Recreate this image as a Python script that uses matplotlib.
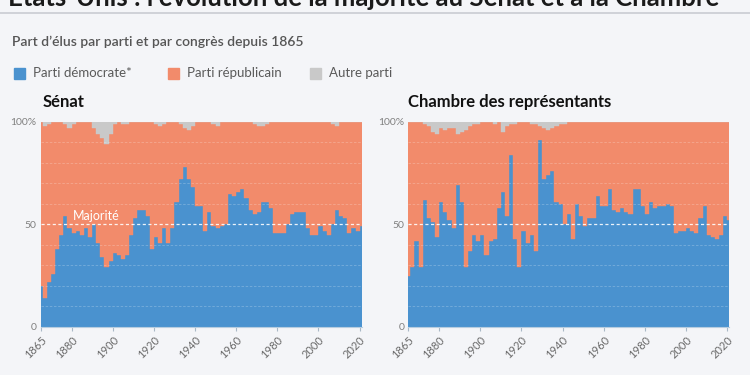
import matplotlib
matplotlib.use('Agg')
import matplotlib.pyplot as plt
from matplotlib.patches import Rectangle

# Congrès (année de début), part des sièges en %
years = list(range(1865, 2022, 2))

senat_dem = [20, 14, 22, 26, 38, 45, 54, 48, 46, 47, 45, 48, 44, 50, 41, 34, 29, 32, 36, 35,
             33, 35, 45, 53, 57, 57, 54, 38, 44, 41, 48, 41, 48, 61, 72, 78, 72, 68, 59, 59,
             47, 56, 49, 48, 49, 50, 65, 64, 66, 67, 63, 57, 55, 56, 61, 61, 58, 46, 46, 46,
             50, 55, 56, 56, 56, 48, 45, 45, 49, 47, 45, 50, 57, 54, 53, 46, 48, 47, 49]
senat_rep = [80, 84, 77, 74, 62, 55, 45, 49, 53, 53, 55, 52, 56, 47, 53, 58, 60, 62, 63, 65,
             66, 64, 55, 47, 43, 43, 46, 62, 55, 57, 51, 59, 52, 39, 27, 19, 24, 30, 41, 41,
             53, 44, 50, 50, 51, 50, 35, 36, 34, 33, 37, 43, 44, 42, 37, 38, 42, 54, 54, 54,
             50, 45, 44, 44, 44, 52, 55, 55, 51, 53, 55, 49, 41, 46, 47, 54, 52, 53, 51]
senat_autre = [0, 2, 1, 0, 0, 0, 1, 3, 1, 0, 0, 0, 0, 3, 6, 8, 11, 6, 1, 0,
               1, 1, 0, 0, 0, 0, 0, 0, 1, 2, 1, 0, 0, 0, 1, 3, 4, 2, 0, 0,
               0, 0, 1, 2, 0, 0, 0, 0, 0, 0, 0, 0, 1, 2, 2, 1, 0, 0, 0, 0,
               0, 0, 0, 0, 0, 0, 0, 0, 0, 0, 0, 1, 2, 0, 0, 0, 0, 0, 0]

chambre_dem = [25, 29, 42, 29, 62, 53, 51, 44, 61, 56, 52, 48, 69, 61, 29, 37, 45, 42, 45, 35,
               42, 43, 58, 66, 54, 84, 43, 29, 47, 41, 45, 37, 91, 72, 74, 76, 61, 60, 50, 55,
               43, 60, 54, 49, 53, 53, 64, 59, 59, 67, 57, 56, 58, 56, 55, 67, 67, 59, 55, 61,
               58, 59, 59, 60, 59, 46, 47, 47, 48, 47, 46, 53, 59, 45, 44, 43, 45, 54, 52]
chambre_rep = [75, 71, 58, 71, 37, 45, 44, 50, 36, 40, 45, 49, 25, 34, 67, 61, 54, 57, 55, 65,
               58, 56, 42, 29, 44, 15, 56, 71, 53, 59, 54, 62, 7, 25, 22, 21, 37, 39, 49, 45,
               57, 40, 46, 51, 47, 47, 36, 41, 41, 33, 43, 44, 42, 44, 45, 33, 33, 41, 45, 39,
               42, 41, 41, 40, 41, 54, 53, 53, 52, 53, 54, 47, 41, 55, 56, 57, 55, 46, 48]
chambre_autre = [0, 0, 0, 0, 1, 2, 5, 6, 3, 4, 3, 3, 6, 5, 4, 2, 1, 1, 0, 0,
                 0, 1, 0, 5, 2, 1, 1, 0, 0, 0, 1, 1, 2, 3, 4, 3, 2, 1, 1, 0,
                 0, 0, 0, 0, 0, 0, 0, 0, 0, 0, 0, 0, 0, 0, 0, 0, 0, 0, 0, 0,
                 0, 0, 0, 0, 0, 0, 0, 0, 0, 0, 0, 0, 0, 0, 0, 0, 0, 0, 0]

partis = ['Parti démocrate*', 'Parti républicain', 'Autre parti']
couleurs = ['#4a92cf', '#f28b6b', '#c9c9c9']
xticks = [1865, 1880, 1900, 1920, 1940, 1960, 1980, 2000, 2020]

BG = '#f4f5f8'
plt.rcParams['font.family'] = ['Lato', 'DejaVu Sans']

W, H = 750, 375
fig = plt.figure(figsize=(7.5, 3.75), dpi=100, facecolor=BG)


def add_axes_px(left, top, right, bottom):
    return fig.add_axes([left / W, 1 - bottom / H, (right - left) / W, (bottom - top) / H])


# En-tête (titre coupé en haut de l'image, comme dans l'original)
fig.text(8 / W, 1 - 6 / H, "Etats-Unis : l'évolution de la majorité au Sénat et à la Chambre",
         fontsize=18.5, fontweight='bold', color='#1a1a1a', va='baseline', ha='left')
fig.add_artist(plt.Line2D([0, 1], [1 - 13 / H, 1 - 13 / H], color='#c9ccd2', lw=1.2))
fig.text(12 / W, 1 - 42 / H, "Part d’élus par parti et par congrès depuis 1865",
         fontsize=10, color='#555555', va='center', ha='left', fontweight='semibold')

# Légende
leg_x = [14, 168, 310]
for x0, lab, col in zip(leg_x, partis, couleurs):
    fig.add_artist(Rectangle((x0 / W, 1 - 79 / H), 11 / W, 11 / H, color=col,
                             transform=fig.transFigure))
    fig.text((x0 + 19) / W, 1 - 73 / H, lab, fontsize=9.5, color='#5a5a5a',
             va='center', ha='left')


def panel(ax, titre, dem, rep, autre):
    ax.set_facecolor(BG)
    ax.bar(years, dem, width=2, color=couleurs[0], edgecolor=couleurs[0], linewidth=0.3)
    ax.bar(years, rep, width=2, bottom=dem, color=couleurs[1], edgecolor=couleurs[1],
           linewidth=0.3)
    base = [d + r for d, r in zip(dem, rep)]
    ax.bar(years, autre, width=2, bottom=base, color=couleurs[2], edgecolor=couleurs[2],
           linewidth=0.3)
    ax.set_xlim(1865, 2021)
    ax.set_ylim(0, 100)
    for v in range(10, 100, 10):
        if v == 50:
            ax.axhline(v, color='white', lw=0.9, ls=(0, (2.5, 2)), alpha=0.9, zorder=3)
        else:
            ax.axhline(v, color='white', lw=0.6, ls=(0, (3, 2)), alpha=0.25, zorder=3)
    for s in ['top', 'right', 'left']:
        ax.spines[s].set_visible(False)
    ax.spines['bottom'].set_color('#b7cde0')
    ax.spines['bottom'].set_linewidth(0.8)
    ax.set_yticks([0, 50, 100])
    ax.set_yticklabels(['0', '50', '100%'])
    ax.tick_params(axis='y', length=0, pad=3, labelsize=7.5, labelcolor='#808080')
    ax.set_xticks(xticks)
    ax.set_xticklabels([str(t) for t in xticks], rotation=45, ha='right',
                       rotation_mode='anchor')
    ax.tick_params(axis='x', length=3, color='#a9b8c6', width=0.8, pad=2,
                   labelsize=8, labelcolor='#6a6a6a')
    ax.text(0, 1.055, titre, transform=ax.transAxes, fontsize=12, fontweight='bold',
            color='#111111', ha='left', va='bottom')


ax1 = add_axes_px(40.7, 121.7, 361.7, 327)
panel(ax1, 'Sénat', senat_dem, senat_rep, senat_autre)
ax1.texts[-1].set_position((0.007, 1.055))
ax1.text(1880.5, 54, 'Majorité', color='white', fontsize=9, ha='left', va='center',
         zorder=4)

ax2 = add_axes_px(408.3, 121.7, 729.3, 327)
panel(ax2, 'Chambre des représentants', chambre_dem, chambre_rep, chambre_autre)

fig.savefig('out.png', dpi=100, facecolor=BG)
